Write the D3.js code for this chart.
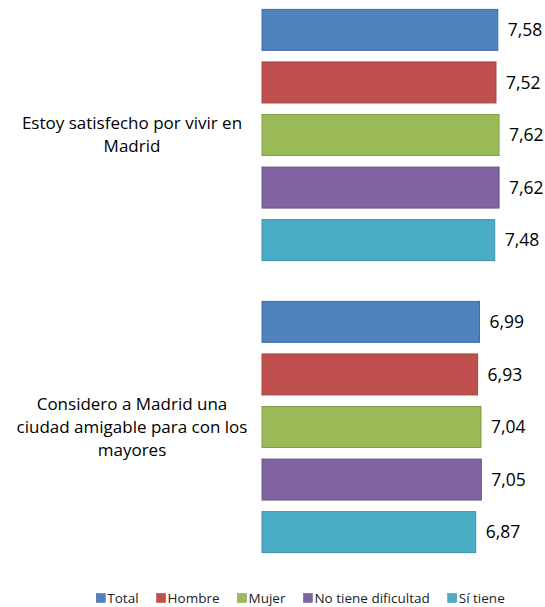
<!DOCTYPE html>
<html><head><meta charset="utf-8">
<script src="https://cdn.jsdelivr.net/npm/d3@7"></script>
<style>body{margin:0;background:#fff}svg{display:block}</style>
</head><body>
<svg id="c" width="545" height="607"></svg>
<script>
const categories = ["Estoy satisfecho por vivir en Madrid", "Considero a Madrid una ciudad amigable para con los mayores"];
const seriesNames = ["Total", "Hombre", "Mujer", "No tiene dificultad", "Sí tiene"];
const seriesColors = ["#4F81BD", "#C0504D", "#9BBB59", "#8064A2", "#4BACC6"];
const total = [7.58, 6.99];
const hombre = [7.52, 6.93];
const mujer = [7.62, 7.04];
const noTiene = [7.62, 7.05];
const siTiene = [7.48, 6.87];
const seriesValues = [total, hombre, mujer, noTiene, siTiene];

const svg = d3.select("#c");
const font = "'Open Sans', 'Liberation Sans', sans-serif";
const x = d3.scaleLinear().domain([0, 9]).range([262, 542]);
const y0 = d3.scaleBand().domain(categories).range([-11, 573]).paddingInner(0.1).paddingOuter(0.05);
const y1 = d3.scaleBand().domain(seriesNames).range([0, y0.bandwidth()]).paddingInner(0.22).paddingOuter(0.11);
const fmt = v => d3.format(".2f")(v).replace(".", ",");

const data = [];
categories.forEach((c, ci) => seriesNames.forEach((s, si) => data.push({c, s, si, v: seriesValues[si][ci]})));

svg.selectAll("rect.bar").data(data).enter().append("rect").attr("class", "bar")
  .attr("x", x(0)).attr("y", d => y0(d.c) + y1(d.s))
  .attr("width", d => x(d.v) - x(0)).attr("height", y1.bandwidth())
  .attr("fill", d => seriesColors[d.si])
  .attr("stroke", d => d3.color(seriesColors[d.si]).darker(0.5)).attr("stroke-width", 1);

svg.selectAll("text.val").data(data).enter().append("text").attr("class", "val")
  .attr("x", d => x(d.v) + 10).attr("y", d => y0(d.c) + y1(d.s) + y1.bandwidth() / 2)
  .attr("dy", "0.35em").attr("font-family", font).attr("font-size", 17.5).attr("fill", "#000")
  .text(d => fmt(d.v));

// category labels with wrapping
const maxW = 240;
categories.forEach(c => {
  const words = c.split(" ");
  const t = svg.append("text").attr("font-family", font).attr("font-size", 17).attr("text-anchor", "middle");
  const lines = [];
  let line = [];
  const probe = t.append("tspan");
  words.forEach(w => {
    const test = line.concat([w]).join(" ");
    probe.text(test);
    if (probe.node().getComputedTextLength() > maxW && line.length) {
      lines.push(line.join(" "));
      line = [w];
    } else line = line.concat([w]);
  });
  lines.push(line.join(" "));
  probe.remove();
  const lh = 23;
  const cy = y0(c) + y0.bandwidth() / 2;
  lines.forEach((l, i) => {
    t.append("tspan").attr("x", 132).attr("y", cy + (i - (lines.length - 1) / 2) * lh).attr("dy", "0.35em").text(l);
  });
});

// legend
const lg = svg.append("g");
let lx = 0;
seriesNames.forEach((s, i) => {
  const g = lg.append("g").attr("transform", `translate(${lx},0)`);
  g.append("rect").attr("x", 0).attr("y", -4.5).attr("width", 9).attr("height", 9).attr("fill", seriesColors[i])
    .attr("stroke", d3.color(seriesColors[i]).darker(0.5)).attr("stroke-width", 0.5);
  const tt = g.append("text").attr("x", 11).attr("dy", "0.35em").attr("font-family", font).attr("font-size", 13.5).attr("fill", "#222").text(s);
  lx += 11 + tt.node().getComputedTextLength() + 18;
});
const lw = lx - 18;
lg.attr("transform", `translate(${300.5 - lw / 2},598)`);
</script>
</body></html>
